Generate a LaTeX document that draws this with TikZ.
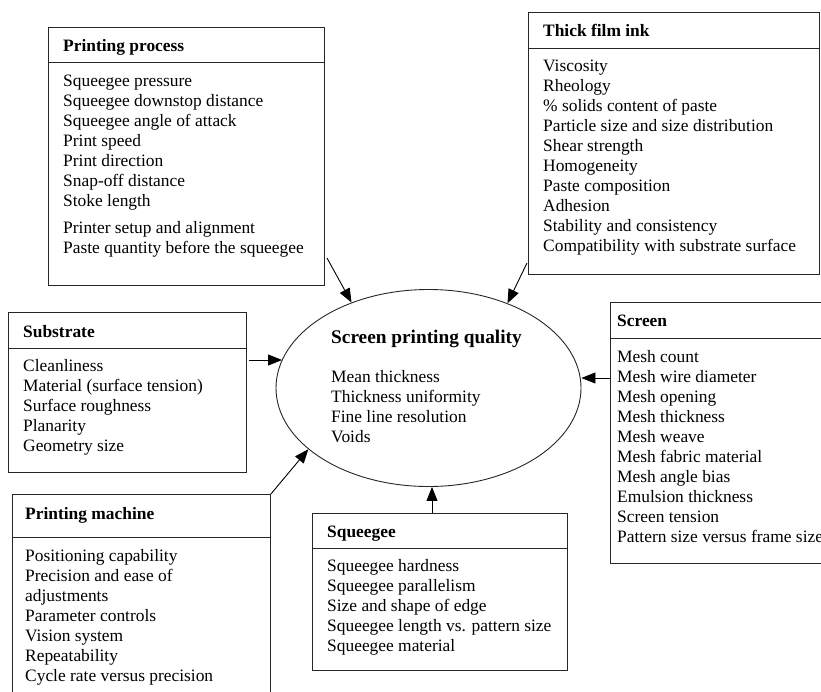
\documentclass[tikz,border=0pt]{standalone}
\usepackage{fontspec}
\setmainfont{Liberation Serif}
\usetikzlibrary{shapes.geometric,arrows.meta,positioning}

\begin{document}
\begin{tikzpicture}[
  x=1pt, y=-1pt,
  panel/.style={rectangle, draw=black!85, line width=0.9pt, anchor=north west, inner sep=0pt},
  head/.style={anchor=base west, inner sep=0pt, font=\fontsize{17.4}{20}\selectfont\bfseries},
  items/.style={anchor=base west, inner sep=0pt, align=left, font=\fontsize{17.4}{20}\selectfont},
  rule/.style={draw=black!85, line width=0.9pt},
  arr/.style={-{Triangle[length=14pt,width=11pt]}, line width=0.9pt}
]
\useasboundingbox (0,0) rectangle (821,691);

% centre (list nodes sit on the baseline of their last line)
\node[draw=black!85, ellipse, line width=0.9pt, inner sep=0pt,
  minimum width=305pt, minimum height=197pt] (spq) at (428.5,388) {};
\node[head, font=\fontsize{19.3}{22}\selectfont\bfseries] (spqt) at (331,343.3) {Screen printing quality};
\node[items] (spql) at (331,442.7) {Mean thickness\\Thickness uniformity\\Fine line resolution\\Voids};

% printing process
\node[panel, minimum width=276pt, minimum height=258pt] (proc) at (48,27) {};
\node[head] (proct) at ([xshift=15pt, yshift=-24.7pt]proc.north west) {Printing process};
\draw[rule] ([yshift=-35pt]proc.north west) -- ([yshift=-35pt]proc.north east);
\node[items] (procl) at ([xshift=15pt, yshift=-226pt]proc.north west)
  {Squeegee pressure\\Squeegee downstop distance\\Squeegee angle of attack\\Print speed\\
   Print direction\\Snap-off distance\\Stoke length\\[6.7pt]
   Printer setup and alignment\\Paste quantity before the squeegee};

% thick film ink
\node[panel, minimum width=291pt, minimum height=262pt] (ink) at (528,12) {};
\node[head] (inkt) at ([xshift=15pt, yshift=-24.7pt]ink.north west) {Thick film ink};
\draw[rule] ([yshift=-36pt]ink.north west) -- ([yshift=-36pt]ink.north east);
\node[items] (inkl) at ([xshift=15pt, yshift=-239.7pt]ink.north west)
  {Viscosity\\Rheology\\\% solids content of paste\\Particle size and size distribution\\
   Shear strength\\Homogeneity\\Paste composition\\Adhesion\\Stability and consistency\\
   Compatibility with substrate surface};

% substrate
\node[panel, minimum width=238pt, minimum height=160pt] (subs) at (8,312) {};
\node[head] (subst) at ([xshift=15pt, yshift=-25pt]subs.north west) {Substrate};
\draw[rule] ([yshift=-36pt]subs.north west) -- ([yshift=-36pt]subs.north east);
\node[items] (subsl) at ([xshift=15pt, yshift=-139pt]subs.north west)
  {Cleanliness\\Material (surface tension)\\Surface roughness\\Planarity\\Geometry size};

% printing machine
\node[panel, minimum width=258pt, minimum height=300pt] (mach) at (12,494) {};
\node[head] (macht) at ([xshift=13pt, yshift=-25pt]mach.north west) {Printing machine};
\draw[rule] ([yshift=-43pt]mach.north west) -- ([yshift=-43pt]mach.north east);
\node[items] (machl) at ([xshift=13pt, yshift=-187pt]mach.north west)
  {Positioning capability\\Precision and ease of\\adjustments\\Parameter controls\\
   Vision system\\Repeatability\\Cycle rate versus precision};

% screen
\node[panel, minimum width=230pt, minimum height=261pt] (scr) at (610,302) {};
\node[head] (scrt) at ([xshift=7pt, yshift=-24pt]scr.north west) {Screen};
\draw[rule] ([yshift=-36pt]scr.north west) -- ([yshift=-36pt]scr.north east);
\node[items] (scrl) at ([xshift=7pt, yshift=-240.5pt]scr.north west)
  {Mesh count\\Mesh wire diameter\\Mesh opening\\Mesh thickness\\Mesh weave\\
   Mesh fabric material\\Mesh angle bias\\Emulsion thickness\\Screen tension\\
   Pattern size versus frame size};

% squeegee
\node[panel, minimum width=255pt, minimum height=157pt] (sqg) at (312,513) {};
\node[head] (sqgt) at ([xshift=15pt, yshift=-24pt]sqg.north west) {Squeegee};
\draw[rule] ([yshift=-35pt]sqg.north west) -- ([yshift=-35pt]sqg.north east);
\node[items] (sqgl) at ([xshift=15pt, yshift=-138pt]sqg.north west)
  {Squeegee hardness\\Squeegee parallelism\\Size and shape of edge\\
   Squeegee length vs. pattern size\\Squeegee material};

% arrows
\coordinate (procout) at (327,258);
\coordinate (inkout) at (527,263);
\coordinate (subsout) at (249,360);
\coordinate (scrout) at (610,378);
\coordinate (sqgout) at (432,513);
\draw[arr] (procout) -- (spq.132);
\draw[arr] (inkout) -- (spq.47.6);
\draw[arr] (subsout) -- (subsout -| spq.169);
\draw[arr] (scrout) -- (scrout -| spq.east);
\draw[arr] (mach.north east) -- (spq.207.4);
\draw[arr] (sqgout) -- (sqgout |- spq.south);
\end{tikzpicture}
\end{document}
